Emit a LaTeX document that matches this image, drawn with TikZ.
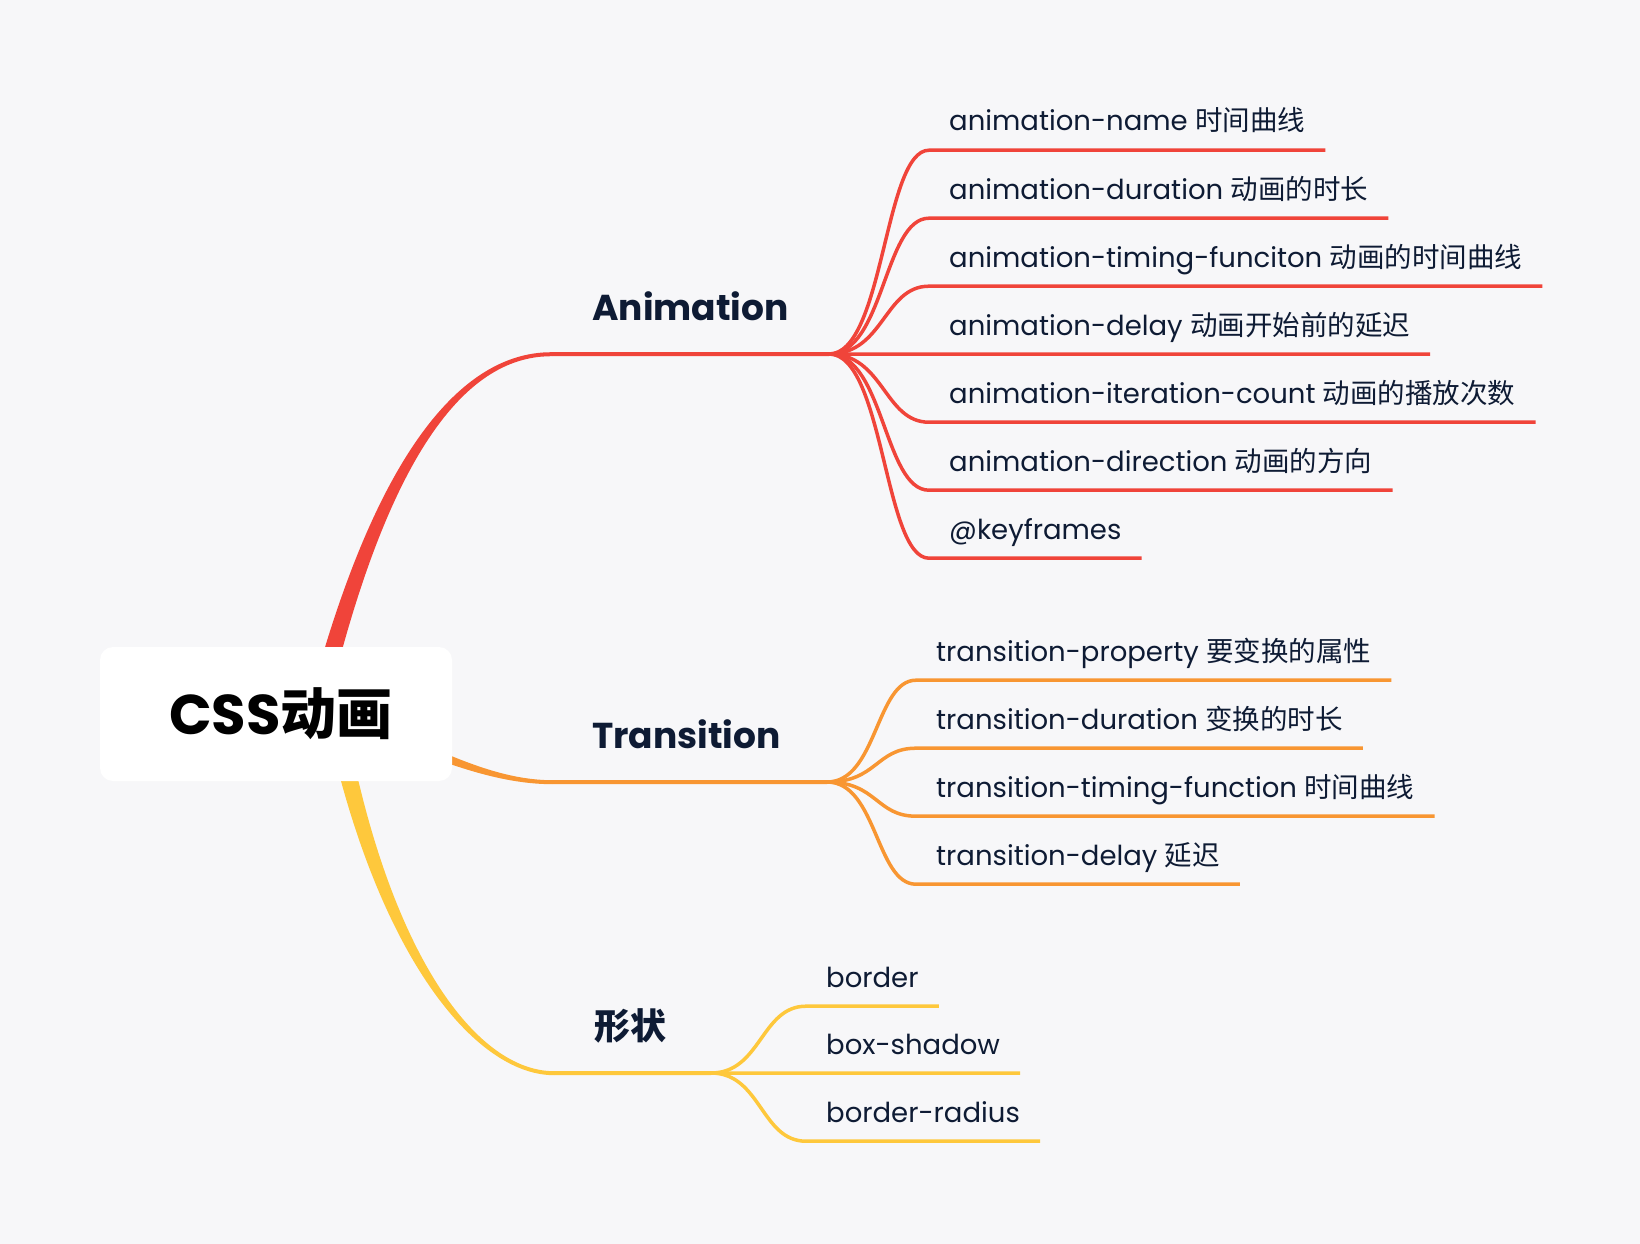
\documentclass[tikz,border=0pt]{standalone}
\usepackage{fontspec}
\usepackage{xcolor}
\setmainfont{Poppins}
\newfontfamily\cjk{Noto Sans CJK SC}
\newcommand{\zh}[1]{{\cjk #1}}
\definecolor{bgc}{HTML}{F7F7F9}
\definecolor{txtc}{HTML}{0E1B34}
\definecolor{redc}{HTML}{F0443A}
\definecolor{orgc}{HTML}{F89632}
\definecolor{ylwc}{HTML}{FEC83C}

\begin{document}
\begin{tikzpicture}[x=1pt, y=-1pt,
  rootbox/.style={fill=white, rounded corners=13pt, minimum width=352pt, minimum height=134pt,
    font=\fontsize{56}{60}\selectfont\bfseries, text=black},
  hdr/.style={anchor=base west, inner xsep=40pt, inner ysep=34pt, text depth=0pt,
    font=\fontsize{36}{40}\selectfont\bfseries, text=txtc},
  leaf/.style={anchor=base west, inner xsep=20pt, inner ysep=19pt, text depth=0pt,
    font=\fontsize{27.5}{33}\selectfont, text=txtc},
  redln/.style={draw=redc, line width=3.5pt},
  orgln/.style={draw=orgc, line width=3.5pt},
  ylwln/.style={draw=ylwc, line width=3.5pt}]
  \useasboundingbox[fill=bgc] (0,0) rectangle (1640,1244);

  % branch heads
  \node[hdr] (anim) at (552,320) {Animation};
  \node[hdr] (trans) at (552,748) {Transition};
  \node[hdr] (shape) at (554,1039) {\zh{形状}};
  \coordinate (animJ) at (829,354);
  \coordinate (transJ) at (827,782);
  \coordinate (shapeJ) at (711,1073);

  % thick branches from the root
  \fill[redc] (314.6,683) -- (325.8,644.6) .. controls (402.8,394.2) and (493,352) .. ([yshift=2pt]anim.south west)
    -- ([yshift=-2pt]anim.south west) .. controls (493,356) and (411.2,399.8) .. (342.2,649.4) -- (331,687.8) -- cycle;
  \fill[orgc] (420,744) -- (431.7,747.8) .. controls (471.3,764.7) and (510,780) .. ([yshift=2pt]trans.south west)
    -- ([yshift=-2pt]trans.south west) .. controls (510,784) and (468.7,771.3) .. (428.3,756.2) -- (416,752) -- cycle;
  \fill[ylwc] (334,752) -- (341.3,782.1) .. controls (394.7,976.5) and (482,1075) .. ([yshift=-2pt]shape.south west)
    -- ([yshift=2pt]shape.south west) .. controls (482,1071) and (403.3,971.5) .. (357.7,777.9) -- (350,748) -- cycle;
  \draw[redc, line width=4pt] (anim.south west) -- (animJ);
  \draw[orgc, line width=4pt] (trans.south west) -- (transJ);
  \draw[ylwc, line width=4pt] (shape.south west) -- (shapeJ);

  \node[rootbox] (root) at (276,714) {\hspace*{10pt}CSS\zh{动画}};

  % Animation
  \node[leaf] (a1) at (929,131) {animation-name \zh{时间曲线}};
  \node[leaf] (a2) at (929,199) {animation-duration \zh{动画的时长}};
  \node[leaf] (a3) at (929,267) {animation-timing-funciton \zh{动画的时间曲线}};
  \node[leaf] (a4) at (929,335) {animation-delay \zh{动画开始前的延迟}};
  \node[leaf] (a5) at (929,403) {animation-iteration-count \zh{动画的播放次数}};
  \node[leaf] (a6) at (929,471) {animation-direction \zh{动画的方向}};
  \node[leaf] (a7) at (929,539) {@keyframes};
  \foreach \n in {a1,a2,a3,a4,a5,a6,a7}
    \draw[redln] (animJ) .. controls +(55,0) and +(-45,0) .. (\n.south west) -- (\n.south east);

  % Transition
  \node[leaf] (t1) at (916,661) {transition-property \zh{要变换的属性}};
  \node[leaf] (t2) at (916,729) {transition-duration \zh{变换的时长}};
  \node[leaf] (t3) at (916,797) {transition-timing-function \zh{时间曲线}};
  \node[leaf] (t4) at (916,865) {transition-delay \zh{延迟}};
  \foreach \n in {t1,t2,t3,t4}
    \draw[orgln] (transJ) .. controls +(50,0) and +(-40,0) .. (\n.south west) -- (\n.south east);

  % 形状
  \node[leaf] (s1) at (806,987) {border};
  \node[leaf] (s2) at (806,1054) {box-shadow};
  \node[leaf] (s3) at (806,1122) {border-radius};
  \foreach \n in {s1,s2,s3}
    \draw[ylwln] (shapeJ) .. controls +(50,0) and +(-45,0) .. (\n.south west) -- (\n.south east);
\end{tikzpicture}
\end{document}
